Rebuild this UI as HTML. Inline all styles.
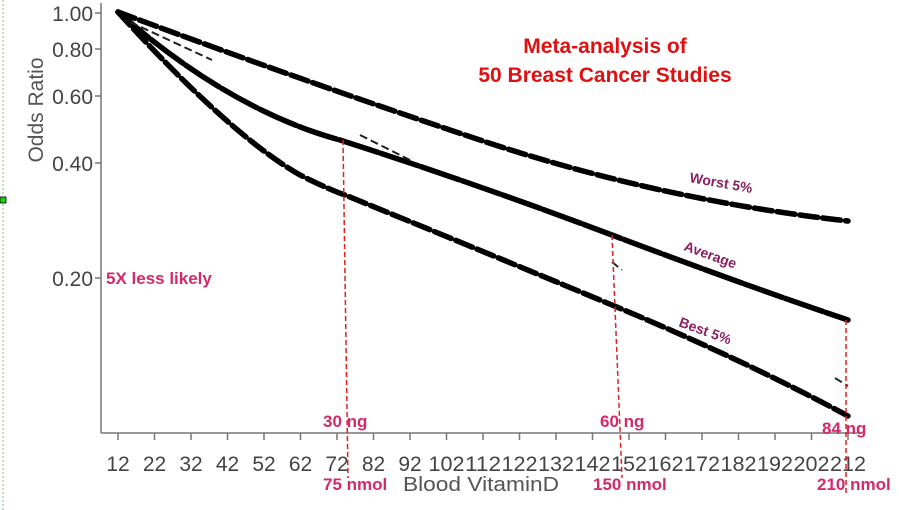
<!DOCTYPE html>
<html><head><meta charset="utf-8"><style>
html,body{margin:0;padding:0;background:#fff}
svg{display:block}
</style></head><body>
<svg width="899" height="510" viewBox="0 0 899 510" xmlns="http://www.w3.org/2000/svg" font-family="Liberation Sans, sans-serif">
<line x1="3" y1="0" x2="3" y2="510" stroke="#7c7" stroke-width="1" stroke-dasharray="2,2"/>
<rect x="0" y="197" width="6" height="6" fill="#2c2" stroke="#000" stroke-width="0.8"/>
<g stroke="#777" stroke-width="1.5" fill="none">
<line x1="101" y1="3" x2="101" y2="433"/>
<line x1="101" y1="433" x2="862" y2="433"/>
<line x1="95" y1="13" x2="101" y2="13"/><line x1="95" y1="49" x2="101" y2="49"/>
<line x1="95" y1="96" x2="101" y2="96"/><line x1="95" y1="163" x2="101" y2="163"/>
<line x1="95" y1="278" x2="101" y2="278"/>
</g>
<g stroke="#777" stroke-width="1.5">
<path d="M118 433v7M154.5 433v7M191 433v7M227.5 433v7M264 433v7M300.5 433v7M337 433v7M373.5 433v7M410 433v7M446.5 433v7M483 433v7M519.5 433v7M556 433v7M592.5 433v7M629 433v7M665.5 433v7M702 433v7M738.5 433v7M775 433v7M811.5 433v7M848 433v7"/>
</g>
<g fill="#444" font-size="21" text-anchor="end">
<text x="93" y="21">1.00</text><text x="93" y="57">0.80</text>
<text x="93" y="104">0.60</text><text x="93" y="171">0.40</text>
<text x="93" y="286">0.20</text>
</g>
<text transform="translate(43,110) rotate(-90)" text-anchor="middle" fill="#555" font-size="21">Odds Ratio</text>
<g fill="#444" font-size="21" text-anchor="middle">
<text x="118" y="471">12</text><text x="154.5" y="471">22</text><text x="191" y="471">32</text>
<text x="227.5" y="471">42</text><text x="264" y="471">52</text><text x="300.5" y="471">62</text>
<text x="337" y="471">72</text><text x="373.5" y="471">82</text><text x="410" y="471">92</text>
<text x="446.5" y="471" textLength="36" lengthAdjust="spacingAndGlyphs">102</text><text x="483" y="471" textLength="36" lengthAdjust="spacingAndGlyphs">112</text><text x="519.5" y="471" textLength="36" lengthAdjust="spacingAndGlyphs">122</text>
<text x="556" y="471" textLength="36" lengthAdjust="spacingAndGlyphs">132</text><text x="592.5" y="471" textLength="36" lengthAdjust="spacingAndGlyphs">142</text><text x="629" y="471" textLength="36" lengthAdjust="spacingAndGlyphs">152</text>
<text x="665.5" y="471" textLength="36" lengthAdjust="spacingAndGlyphs">162</text><text x="702" y="471" textLength="36" lengthAdjust="spacingAndGlyphs">172</text><text x="738.5" y="471" textLength="36" lengthAdjust="spacingAndGlyphs">182</text>
<text x="775" y="471" textLength="36" lengthAdjust="spacingAndGlyphs">192</text><text x="811.5" y="471" textLength="36" lengthAdjust="spacingAndGlyphs">202</text><text x="848" y="471" textLength="36" lengthAdjust="spacingAndGlyphs">212</text>
</g>
<text x="403" y="491" fill="#555" font-size="20" textLength="156" lengthAdjust="spacingAndGlyphs">Blood VitaminD</text>
<g fill="none" stroke="#000" stroke-width="5.5" stroke-linecap="round">
<path d="M118 12 Q300 80 480 140 T848 221" stroke-dasharray="18,5"/>
<path d="M118 12 Q230 110 340 140 Q480 185 612 235 T848 320" stroke-dasharray="40,3"/>
<path d="M118 12 Q230 135 300 175 Q330 190 345 195 Q480 250 612 305 T848 416" stroke-dasharray="18,5"/>
</g>
<g fill="none" stroke="#222" stroke-width="2" stroke-dasharray="8,4">
<path d="M130 22 L212 60"/><path d="M360 135 L410 160"/><path d="M612 262 L622 270"/><path d="M835 378 L848 386"/>
</g>
<g stroke="#e02020" stroke-width="1.5" stroke-dasharray="5,3">
<line x1="343" y1="140" x2="348" y2="478"/>
<line x1="612" y1="235" x2="622" y2="478"/>
<line x1="846" y1="320" x2="846" y2="495"/>
</g>
<g fill="#d42a6a" font-size="17" font-weight="bold">
<text x="106" y="284">5X less likely</text>
<text x="323" y="427">30 ng</text><text x="600" y="427">60 ng</text><text x="822" y="434">84 ng</text>
<text x="323" y="490">75 nmol</text><text x="593" y="490">150 nmol</text><text x="817" y="490">210 nmol</text>
</g>
<g fill="#e01010" font-size="21" font-weight="bold" text-anchor="middle">
<text x="605" y="53">Meta-analysis of</text>
<text x="605" y="82">50 Breast Cancer Studies</text>
</g>
<g fill="#8a2060" font-size="14" font-weight="bold">
<text transform="translate(689,182) rotate(10)">Worst 5%</text>
<text transform="translate(683,250) rotate(20)">Average</text>
<text transform="translate(678,326) rotate(20)">Best 5%</text>
</g>
</svg>
</body></html>
